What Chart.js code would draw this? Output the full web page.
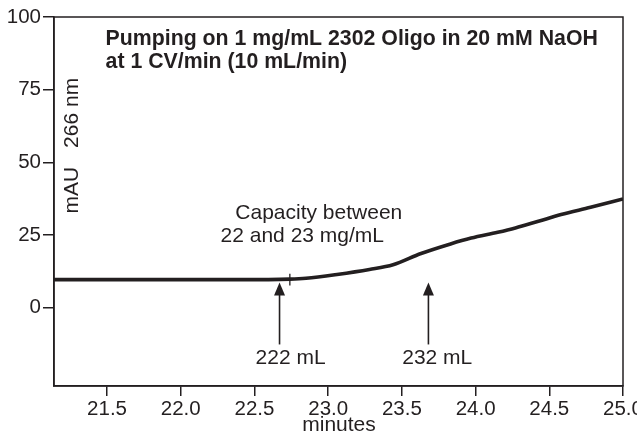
<!DOCTYPE html>
<html>
<head>
<meta charset="utf-8">
<script src="https://cdn.jsdelivr.net/npm/chart.js@4.4.1/dist/chart.umd.min.js"></script>
<style>
  html, body { margin: 0; padding: 0; background: #ffffff; }
  #wrap { position: relative; width: 637px; height: 436px; }
</style>
</head>
<body>
<div id="wrap"><canvas id="c"></canvas></div>
<script>
// ---- data ----
const minutes = [21.14, 22.40, 22.74, 22.85, 23.06, 23.28, 23.44, 23.63, 23.83, 23.97, 24.15, 24.27, 24.42, 24.58, 24.78, 25.00];
const absorbance = [9.6, 9.6, 9.8, 10.1, 11.4, 13.1, 14.7, 18.6, 21.9, 23.9, 25.9, 27.4, 29.6, 32.0, 34.5, 37.4];
const xTickValues = [21.5, 22.0, 22.5, 23.0, 23.5, 24.0, 24.5, 25.0];
const yTickValues = [0, 25, 50, 75, 100];
const xRange = [21.14, 25.0];
const yRange = [-27, 100];

const titleLines = ["Pumping on 1 mg/mL 2302 Oligo in 20 mM NaOH", "at 1 CV/min (10 mL/min)"];
const noteLines = ["Capacity between", "22 and 23 mg/mL"];
const arrowMinutes = [22.67, 23.68];
const arrowLabels = ["222 mL", "232 mL"];
const markMinute = 22.74;
const xTitle = "minutes";
const yTitleParts = ["mAU", "266 nm"];

const INK = '#231f20';
const FONT = '"Liberation Sans", Arial, Helvetica, sans-serif';

const overlay = {
  id: 'overlay',
  afterDatasetsDraw(chart) {
    const ctx = chart.ctx;
    const a = chart.chartArea;
    const xs = chart.scales.x, ys = chart.scales.y;
    ctx.save();
    // frame (top & right)
    ctx.strokeStyle = INK;
    ctx.lineWidth = 1.5;
    ctx.strokeRect(a.left, a.top, a.right - a.left, a.bottom - a.top);

    ctx.fillStyle = INK;
    // title
    ctx.font = 'bold 21.3px ' + FONT;
    ctx.textAlign = 'left';
    ctx.textBaseline = 'alphabetic';
    ctx.fillText(titleLines[0], xs.getPixelForValue(21.49), a.top + 28);
    ctx.fillText(titleLines[1], xs.getPixelForValue(21.49), a.top + 51);

    // note
    ctx.font = '21px ' + FONT;
    ctx.textBaseline = 'middle';
    ctx.fillText(noteLines[0], xs.getPixelForValue(22.37), ys.getPixelForValue(32.5));
    ctx.fillText(noteLines[1], xs.getPixelForValue(22.27), ys.getPixelForValue(24.7));

    // arrows
    arrowMinutes.forEach((m, i) => {
      const px = xs.getPixelForValue(m);
      const tip = ys.getPixelForValue(8.6);
      const bot = ys.getPixelForValue(-12.7);
      ctx.lineWidth = 1.6;
      ctx.beginPath();
      ctx.moveTo(px, bot);
      ctx.lineTo(px, tip + 10);
      ctx.stroke();
      ctx.beginPath();
      ctx.moveTo(px, tip);
      ctx.lineTo(px - 5.5, tip + 13);
      ctx.lineTo(px + 5.5, tip + 13);
      ctx.closePath();
      ctx.fill();
      ctx.textAlign = 'center';
      ctx.fillText(arrowLabels[i], xs.getPixelForValue(m + (i === 0 ? 0.075 : 0.06)), ys.getPixelForValue(-17.5));
    });

    // small tick on the curve
    ctx.lineWidth = 1.3;
    ctx.beginPath();
    ctx.moveTo(xs.getPixelForValue(markMinute), ys.getPixelForValue(7.6));
    ctx.lineTo(xs.getPixelForValue(markMinute), ys.getPixelForValue(11.6));
    ctx.stroke();

    // axis titles
    ctx.textAlign = 'center';
    ctx.fillText(xTitle, (a.left + a.right) / 2 + 0.5, a.bottom + 39);
    ctx.save();
    ctx.translate(a.left + 18, ys.getPixelForValue(40.4));
    ctx.rotate(-Math.PI / 2);
    ctx.fillText(yTitleParts[0], 0, 0);
    ctx.restore();
    ctx.save();
    ctx.translate(a.left + 18, ys.getPixelForValue(67));
    ctx.rotate(-Math.PI / 2);
    ctx.fillText(yTitleParts[1], 0, 0);
    ctx.restore();
    ctx.restore();
  }
};

new Chart(document.getElementById('c'), {
  type: 'line',
  data: {
    datasets: [{
      data: minutes.map((m, i) => ({ x: m, y: absorbance[i] })),
      borderColor: INK,
      borderWidth: 3.6,
      pointRadius: 0,
      cubicInterpolationMode: 'monotone',
      fill: false
    }]
  },
  options: {
    responsive: true,
    maintainAspectRatio: false,
    animation: false,
    devicePixelRatio: 1,
    layout: { padding: { left: 0, right: 14, top: 17, bottom: 0 } },
    plugins: { legend: { display: false }, tooltip: { enabled: false }, title: { display: false } },
    scales: {
      x: {
        type: 'linear',
        min: xRange[0], max: xRange[1],
        afterBuildTicks: s => { s.ticks = xTickValues.map(v => ({ value: v })); },
        afterFit: s => { s.height = 50; s.paddingLeft = 0; s.paddingRight = 0; },
        ticks: {
          color: INK, font: { family: FONT, size: 20.5 }, padding: 1,
          maxRotation: 0, autoSkip: false,
          callback: v => Number(v).toFixed(1)
        },
        grid: { drawOnChartArea: false, drawTicks: true, tickLength: 10, color: INK, lineWidth: 1.5 },
        border: { display: true, color: INK, width: 1.5 }
      },
      y: {
        type: 'linear',
        min: yRange[0], max: yRange[1],
        afterBuildTicks: s => { s.ticks = yTickValues.map(v => ({ value: v })); },
        afterFit: s => { s.width = 54; s.paddingTop = 0; s.paddingBottom = 0; },
        ticks: {
          color: INK, font: { family: FONT, size: 20.5 }, padding: 2, autoSkip: false,
          callback: v => String(v)
        },
        grid: { drawOnChartArea: false, drawTicks: true, tickLength: 11, color: INK, lineWidth: 1.5 },
        border: { display: true, color: INK, width: 1.5 }
      }
    }
  },
  plugins: [overlay]
});
</script>
</body>
</html>
